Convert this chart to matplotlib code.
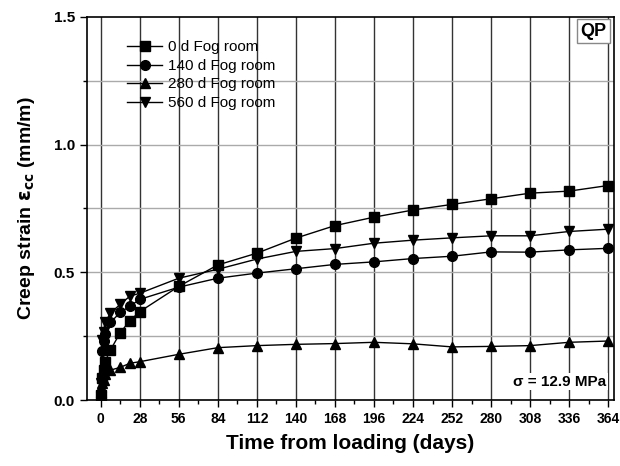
import matplotlib
matplotlib.use("Agg")
import matplotlib.pyplot as plt
import numpy as np

plt.rcParams['font.family'] = ['Liberation Sans', 'DejaVu Sans']

days = [0, 1, 2, 3, 7, 14, 21, 28, 56, 84, 112, 140, 168, 196, 224, 252, 280, 308, 336, 364]
fog0 = [0.02, 0.086, 0.118, 0.150, 0.196, 0.264, 0.311, 0.346, 0.445, 0.529, 0.575, 0.634,
        0.683, 0.716, 0.744, 0.766, 0.788, 0.810, 0.818, 0.840]
fog140 = [0.013, 0.19, 0.23, 0.26, 0.304, 0.343, 0.368, 0.394, 0.442, 0.477, 0.497, 0.514,
          0.531, 0.541, 0.554, 0.563, 0.580, 0.579, 0.588, 0.594]
fog280 = [0.052, 0.065, 0.078, 0.102, 0.117, 0.128, 0.144, 0.150, 0.179, 0.205, 0.213, 0.218,
          0.221, 0.226, 0.220, 0.208, 0.210, 0.213, 0.226, 0.231]
fog560 = [0.068, 0.235, 0.268, 0.304, 0.340, 0.375, 0.407, 0.418, 0.477, 0.512, 0.552, 0.582,
          0.593, 0.614, 0.626, 0.635, 0.643, 0.643, 0.660, 0.669]
labels = ['0 d Fog room', '140 d Fog room', '280 d Fog room', '560 d Fog room']
markers = ['s', 'o', '^', 'v']
xticks = list(range(0, 365, 28))

fig = plt.figure(figsize=(6.2, 4.66), dpi=100)
ax = fig.add_axes([0.140, 0.1416, 0.851, 0.822])

for y, lab, m in zip([fog0, fog140, fog280, fog560], labels, markers):
    ax.plot(days, y, color='black', lw=1.0, marker=m, markersize=7, label=lab, zorder=3)

ax.set_xlim(-10, 368.5)
ax.set_ylim(0, 1.5)
ax.set_xticks(xticks)
ax.set_xticks(list(range(14, 365, 28)), minor=True)
ax.set_yticks([0.0, 0.5, 1.0, 1.5])
ax.set_yticklabels(['0.0', '0.5', '1.0', '1.5'])
ax.set_yticks([0.25, 0.75, 1.25], minor=True)

for d in xticks:
    ax.axvline(d, color='#333333', lw=1.0, zorder=1)
for v in [0.25, 0.5, 0.75, 1.0, 1.25]:
    ax.axhline(v, color='#aaaaaa', lw=1.0, zorder=1)

ax.tick_params(axis='both', which='major', direction='out', length=5, width=1)
ax.tick_params(axis='x', which='major', labelsize=10)
ax.tick_params(axis='y', which='major', labelsize=11)
ax.tick_params(axis='both', which='minor', direction='out', length=3, width=1)
for lbl in ax.get_xticklabels() + ax.get_yticklabels():
    lbl.set_fontweight('bold')
for s in ax.spines.values():
    s.set_linewidth(1.2)

ax.set_xlabel('Time from loading (days)', fontsize=15, fontweight='bold', labelpad=6)
ax.set_ylabel(r'Creep strain $\mathbf{\varepsilon_{cc}}$ (mm/m)', fontsize=14,
              fontweight='bold', labelpad=12)

leg = ax.legend(loc='upper left', bbox_to_anchor=(0.065, 0.955), frameon=False,
                fontsize=11, handlelength=2.3, handletextpad=0.35, labelspacing=0.3,
                borderaxespad=0)

ax.text(0.985, 0.985, 'QP', transform=ax.transAxes, ha='right', va='top',
        fontsize=13, fontweight='bold',
        bbox=dict(boxstyle='square,pad=0.2', fc='white', ec='#888888', lw=1))
ax.text(0.985, 0.03, 'σ = 12.9 MPa', transform=ax.transAxes, ha='right', va='bottom',
        fontsize=11, fontweight='bold',
        bbox=dict(boxstyle='square,pad=0.1', fc='white', ec='none'))

fig.savefig('out.png', dpi=100)
